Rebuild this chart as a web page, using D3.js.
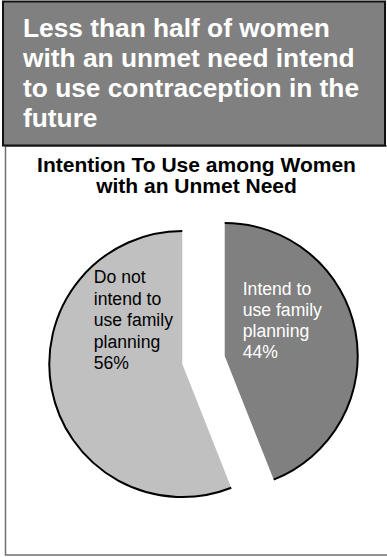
<!DOCTYPE html>
<html>
<head>
<meta charset="utf-8">
<script src="https://cdn.jsdelivr.net/npm/d3@7/dist/d3.min.js"></script>
<style>
  html, body { margin: 0; padding: 0; background: #fff; }
  svg { display: block; }
</style>
</head>
<body>
<script>
// Headline and chart title
const headlineLines = ["Less than half of women", "with an unmet need intend", "to use contraception in the", "future"];
const chartTitleLines = ["Intention To Use among Women", "with an Unmet Need"];

// Pie slices (clockwise from 12 o'clock)
const categories = ["Intend to use family planning", "Do not intend to use family planning"];
const shares = [44, 56];
const sliceColors = ["#808080", "#c0c0c0"];
const labelColors = ["#ffffff", "#000000"];
const labelLines = [
  ["Intend to", "use family", "planning", "44%"],
  ["Do not", "intend to", "use family", "planning", "56%"]
];

const W = 387, H = 557;
const svg = d3.select("body").append("svg").attr("width", W).attr("height", H);

// Chart frame
svg.append("rect")
  .attr("x", 5.5).attr("y", 146).attr("width", 383).attr("height", 409)
  .attr("fill", "#fff").attr("stroke", "#6e6e6e").attr("stroke-width", 1.5);

// Headline box
svg.append("rect")
  .attr("x", 3).attr("y", 1.5).attr("width", 382).attr("height", 144)
  .attr("fill", "#808080").attr("stroke", "#111").attr("stroke-width", 2);

svg.append("g")
  .selectAll("text").data(headlineLines).join("text")
  .attr("x", 23).attr("y", (d, i) => 37 + i * 30)
  .attr("fill", "#fff")
  .attr("font-family", "Arial, 'Liberation Sans', sans-serif")
  .attr("font-weight", "bold").attr("font-size", 26.3)
  .text(d => d);

svg.append("g")
  .selectAll("text").data(chartTitleLines).join("text")
  .attr("x", 196.5).attr("y", (d, i) => 171.5 + i * 21.7)
  .attr("text-anchor", "middle")
  .attr("fill", "#000")
  .attr("font-family", "Arial, 'Liberation Sans', sans-serif")
  .attr("font-weight", "bold").attr("font-size", 21)
  .text(d => d);

// Exploded pie
const cx = 203.5, cy = 360, r = 133, explode = 21.6;
const pie = d3.pie().sort(null).value(d => d);
const arcs = pie(shares);
const arc = d3.arc().innerRadius(0).outerRadius(r);
const rim = d3.arc().innerRadius(r).outerRadius(r);

const slices = svg.append("g").attr("transform", `translate(${cx},${cy})`)
  .selectAll("g").data(arcs).join("g")
  .attr("transform", d => {
    const m = (d.startAngle + d.endAngle) / 2;
    return `translate(${explode * Math.sin(m)},${-explode * Math.cos(m)})`;
  });

slices.append("path").attr("d", arc).attr("fill", (d, i) => sliceColors[i]);
slices.append("path").attr("d", rim).attr("fill", "none")
  .attr("stroke", "#000").attr("stroke-width", 2);

// Slice labels, positioned relative to each slice's centre
const labelOffsets = [[18, -61], [-88.5, -81]];
const lineStep = [21, 21.5];
slices.append("text")
  .attr("fill", (d, i) => labelColors[i])
  .attr("font-family", "Arial, 'Liberation Sans', sans-serif")
  .attr("font-size", 17.6)
  .each(function (d, i) {
    d3.select(this).selectAll("tspan").data(labelLines[i]).join("tspan")
      .attr("x", labelOffsets[i][0])
      .attr("y", (t, k) => labelOffsets[i][1] + k * lineStep[i])
      .text(t => t);
  });
</script>
</body>
</html>
